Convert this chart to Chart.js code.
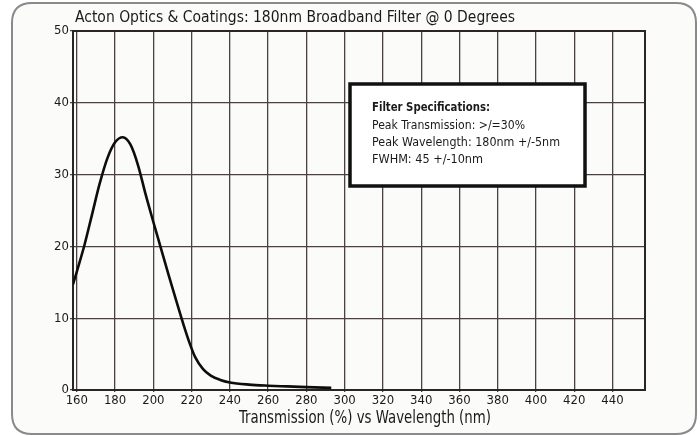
<!DOCTYPE html>
<html>
<head>
<meta charset="utf-8">
<script src="https://cdn.jsdelivr.net/npm/chart.js@4.4.1/dist/chart.umd.min.js"></script>
<style>
  html, body { margin: 0; padding: 0; background: #fff; }
  #wrap { width: 700px; height: 436px; }
</style>
</head>
<body>
<div id="wrap"><canvas id="chart" width="700" height="436"></canvas></div>
<script>
// wavelength (nm) and transmission (%)
const wavelengths = [158, 160, 164, 168, 172, 176, 180, 184, 188, 192, 196, 200, 204, 208, 212, 216, 219, 222, 226, 230, 235, 240, 250, 260, 270, 280, 293];
const transmission = [14.7, 16.5, 20.2, 24.5, 28.8, 32.3, 34.5, 35.2, 34.2, 31.3, 27.2, 23.4, 19.7, 16.0, 12.4, 8.9, 6.5, 4.5, 2.9, 2.0, 1.4, 1.05, 0.75, 0.6, 0.5, 0.4, 0.3];
const xTicks = [160, 180, 200, 220, 240, 260, 280, 300, 320, 340, 360, 380, 400, 420, 440];
const yTicks = [0, 10, 20, 30, 40, 50];

const titleText = 'Acton Optics & Coatings: 180nm Broadband Filter @ 0 Degrees';
const xTitleText = 'Transmission (%) vs Wavelength (nm)';
const specLines = [
  'Filter Specifications:',
  'Peak Transmission: >/=30%',
  'Peak Wavelength: 180nm +/-5nm',
  'FWHM: 45 +/-10nm'
];

const FONT = "'DejaVu Sans Condensed', 'Liberation Sans Narrow', sans-serif";
const GRID = '#4a4242';

function roundRect(ctx, x, y, w, h, r) {
  ctx.beginPath();
  ctx.moveTo(x + r, y);
  ctx.lineTo(x + w - r, y);
  ctx.quadraticCurveTo(x + w, y, x + w, y + r);
  ctx.lineTo(x + w, y + h - r);
  ctx.quadraticCurveTo(x + w, y + h, x + w - r, y + h);
  ctx.lineTo(x + r, y + h);
  ctx.quadraticCurveTo(x, y + h, x, y + h - r);
  ctx.lineTo(x, y + r);
  ctx.quadraticCurveTo(x, y, x + r, y);
  ctx.closePath();
}

const decor = {
  id: 'decor',
  beforeDraw(chart) {
    const ctx = chart.ctx;
    ctx.save();
    ctx.fillStyle = '#ffffff';
    ctx.fillRect(0, 0, chart.width, chart.height);
    roundRect(ctx, 12, 3, 684, 431, 20);
    ctx.fillStyle = '#fbfbfa';
    ctx.fill();
    ctx.lineWidth = 2;
    ctx.strokeStyle = '#8a8a8a';
    ctx.stroke();
    ctx.restore();
  },
  beforeDatasetsDraw(chart) {
    const ctx = chart.ctx;
    const a = chart.chartArea;
    ctx.save();
    ctx.lineWidth = 2;
    ctx.strokeStyle = '#2a2424';
    ctx.strokeRect(a.left, a.top, a.right - a.left, a.bottom - a.top);
    ctx.restore();
  },
  afterDraw(chart) {
    const ctx = chart.ctx;
    ctx.save();
    ctx.fillStyle = '#1a1a1a';
    ctx.textBaseline = 'middle';
    ctx.textAlign = 'left';
    ctx.font = '16px ' + FONT;
    ctx.fillText(titleText, 75, 18, 440);

    ctx.textAlign = 'center';
    ctx.font = '18px ' + FONT;
    ctx.fillText(xTitleText, 365, 418, 252);

    // spec box
    ctx.fillStyle = '#ffffff';
    ctx.fillRect(350, 84, 235, 102);
    ctx.lineWidth = 3.5;
    ctx.strokeStyle = '#111';
    ctx.strokeRect(350, 84, 235, 102);
    ctx.fillStyle = '#1a1a1a';
    ctx.textAlign = 'left';
    const ys = [108, 126, 143, 160];
    const ws = [118, 153, 188, 111];
    specLines.forEach((t, i) => {
      ctx.font = (i === 0 ? '600 ' : '') + '13px ' + FONT;
      ctx.fillText(t, 372, ys[i], ws[i]);
    });
    ctx.restore();
  }
};

new Chart(document.getElementById('chart'), {
  type: 'line',
  data: {
    datasets: [{
      data: wavelengths.map((w, i) => ({ x: w, y: transmission[i] })),
      borderColor: '#0d0d0d',
      borderWidth: 2.6,
      pointRadius: 0,
      fill: false,
      cubicInterpolationMode: 'monotone'
    }]
  },
  options: {
    responsive: false,
    animation: false,
    layout: { padding: { left: 0, top: 31, right: 55, bottom: 0 } },
    plugins: { legend: { display: false }, tooltip: { enabled: false } },
    scales: {
      x: {
        type: 'linear',
        min: 158,
        max: 457,
        afterBuildTicks: s => { s.ticks = xTicks.map(v => ({ value: v })); },
        afterFit: s => { s.height = 46; },
        grid: { color: GRID, lineWidth: 1.3, tickLength: 2 },
        border: { color: '#2a2424', width: 2 },
        ticks: {
          color: '#1a1a1a',
          font: { family: FONT, size: 13 },
          padding: 1,
          maxRotation: 0,
          autoSkip: false
        }
      },
      y: {
        min: 0,
        max: 50,
        afterBuildTicks: s => { s.ticks = yTicks.map(v => ({ value: v })); },
        afterFit: s => { s.width = 73; },
        grid: { color: GRID, lineWidth: 1.3, tickLength: 3 },
        border: { color: '#2a2424', width: 2 },
        ticks: {
          color: '#1a1a1a',
          font: { family: FONT, size: 13 },
          padding: 1
        }
      }
    }
  },
  plugins: [decor]
});
</script>
</body>
</html>
